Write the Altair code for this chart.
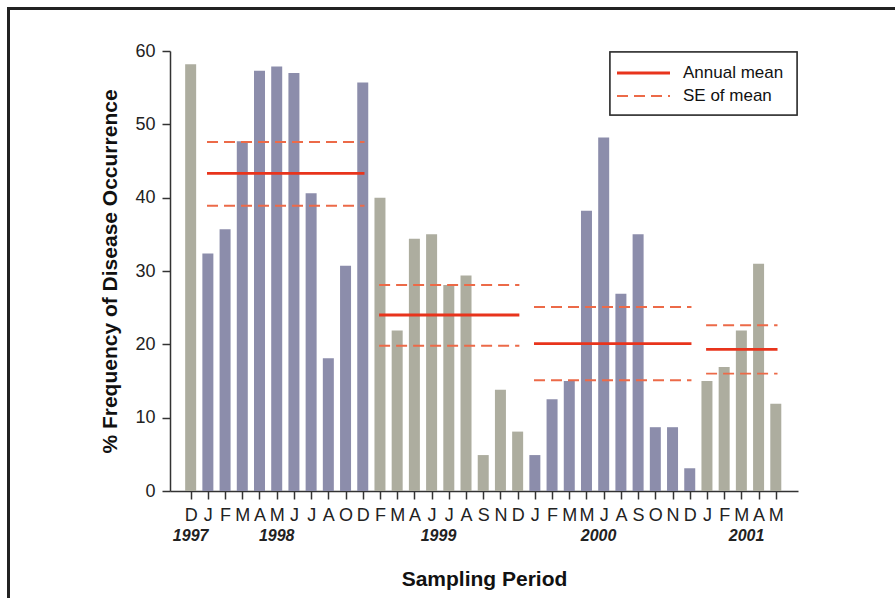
import altair as alt
import pandas as pd

months = ["D", "J", "F", "M", "A", "M", "J", "J", "A", "O", "D",
          "F", "M", "A", "J", "J", "A", "S", "N", "D",
          "J", "F", "M", "M", "J", "A", "S", "O", "N", "D",
          "J", "F", "M", "A", "M"]
years = ["1997"] + ["1998"] * 10 + ["1999"] * 9 + ["2000"] * 10 + ["2001"] * 5
values = [58.2, 32.4, 35.7, 47.7, 57.3, 57.9, 57.0, 40.6, 18.1, 30.7, 55.7,
          40.0, 21.9, 34.4, 35.0, 28.1, 29.4, 4.9, 13.8, 8.1,
          4.9, 12.5, 15.0, 38.2, 48.2, 26.9, 35.0, 8.7, 8.7, 3.1,
          15.0, 16.9, 21.9, 31.0, 11.9]

mean_years = ["1998", "1999", "2000", "2001"]
mean_vals = [43.3, 24.0, 20.1, 19.3]
se_upper = [47.6, 28.1, 25.1, 22.6]
se_lower = [38.9, 19.8, 15.1, 16.0]
span_start = [2, 12, 21, 31]
span_end = [11, 20, 30, 35]

year_labels = ["1997", "1998", "1999", "2000", "2001"]
year_label_pos = [1, 6, 15.4, 24.7, 33.3]

legend_labels = ["Annual mean", "SE of mean"]

idx = list(range(1, len(values) + 1))
bars = pd.DataFrame({"idx": idx, "month": months, "year": years, "value": values})
bars["group"] = ["B" if y in ("1998", "2000") else "A" for y in years]

mean_rows = []
se_rows = []
for y, m, u, l, s, e in zip(mean_years, mean_vals, se_upper, se_lower, span_start, span_end):
    mean_rows.append({"year": y, "v": m, "s": s - 0.05, "e": e + 0.1})
    se_rows.append({"year": y, "v": u, "s": s - 0.05, "e": e + 0.1})
    se_rows.append({"year": y, "v": l, "s": s - 0.05, "e": e + 0.1})
means = pd.DataFrame(mean_rows)
ses = pd.DataFrame(se_rows)

ylab = pd.DataFrame({"label": year_labels, "pos": year_label_pos})
leg = pd.DataFrame({"label": legend_labels})

month_str = "".join(months)
FONT = "Liberation Sans"
W, H = 628, 440
RED = "#e8341c"
RED2 = "#ec6a48"
DASH = [11, 6]

xscale = alt.Scale(domain=[0.09, 36.0], nice=False, zero=False)
yscale = alt.Scale(domain=[0, 60], nice=False)

xaxis = alt.Axis(values=idx, labelExpr=f"substring('{month_str}', datum.value-1, datum.value)",
                 title="Sampling Period", titleFontSize=21, titleFontWeight="bold",
                 titleFont=FONT, titleColor="#111", titlePadding=44, labelFontSize=18,
                 labelFont=FONT, labelColor="#222", labelPadding=7, tickSize=8,
                 tickColor="#333", domainColor="#333", domainWidth=1.5, tickWidth=1.5,
                 grid=False, labelFlush=False, labelOverlap=False, labelBound=False)
yaxis = alt.Axis(values=[0, 10, 20, 30, 40, 50, 60], title="% Frequency of Disease Occurrence",
                 titleFontSize=21, titleFontWeight="bold", titleFont=FONT, titleColor="#111",
                 titlePadding=14, labelFontSize=18, labelFont=FONT, labelColor="#222",
                 labelPadding=7, tickSize=8, tickColor="#333", domainColor="#333",
                 domainWidth=1.5, tickWidth=1.5, grid=False, labelOverlap=False)

bar_layer = alt.Chart(bars).mark_bar(size=11).encode(
    x=alt.X("idx:Q", scale=xscale, axis=xaxis, title="Sampling Period"),
    y=alt.Y("value:Q", scale=yscale, axis=yaxis, title="% Frequency of Disease Occurrence"),
    color=alt.Color("group:N", scale=alt.Scale(domain=["A", "B"], range=["#adad9f", "#8c8dab"]), legend=None),
)

mean_layer = alt.Chart(means).mark_rule(color=RED, strokeWidth=2.8).encode(
    x=alt.X("s:Q", scale=xscale, axis=xaxis, title="Sampling Period"), x2="e:Q",
    y=alt.Y("v:Q", scale=yscale, axis=yaxis, title="% Frequency of Disease Occurrence"))
se_layer = alt.Chart(ses).mark_rule(color=RED2, strokeWidth=1.9, strokeDash=DASH).encode(
    x=alt.X("s:Q", scale=xscale, axis=xaxis, title="Sampling Period"), x2="e:Q",
    y=alt.Y("v:Q", scale=yscale, axis=yaxis, title="% Frequency of Disease Occurrence"))

year_layer = alt.Chart(ylab).mark_text(font=FONT, fontSize=16, fontWeight="bold", fontStyle="italic",
                                       color="#222", baseline="middle").encode(
    x=alt.X("pos:Q", scale=xscale, axis=xaxis, title="Sampling Period"), y=alt.value(H + 45), text="label:N")

# legend box (drawn in pixel space of the plot area)
leg_box = alt.Chart(leg).mark_rect(fill="white", stroke="#333", strokeWidth=1.5).encode(
    x=alt.value(440), x2=alt.value(627), y=alt.value(1), y2=alt.value(64))
leg_solid = alt.Chart(leg).transform_filter(alt.datum.label == legend_labels[0]).mark_rule(
    color=RED, strokeWidth=2.8).encode(x=alt.value(447), x2=alt.value(500), y=alt.value(22))
leg_dash = alt.Chart(leg).transform_filter(alt.datum.label == legend_labels[1]).mark_rule(
    color=RED2, strokeWidth=1.9, strokeDash=DASH).encode(x=alt.value(447), x2=alt.value(500), y=alt.value(45))
leg_text1 = alt.Chart(leg).transform_filter(alt.datum.label == legend_labels[0]).mark_text(
    font=FONT, fontSize=17, color="#111", align="left", baseline="middle").encode(
    x=alt.value(513), y=alt.value(22), text="label:N")
leg_text2 = alt.Chart(leg).transform_filter(alt.datum.label == legend_labels[1]).mark_text(
    font=FONT, fontSize=17, color="#111", align="left", baseline="middle").encode(
    x=alt.value(513), y=alt.value(45), text="label:N")

frame_left = alt.Chart(leg).mark_rule(color="#222", strokeWidth=3).encode(
    x=alt.value(-161.5), y=alt.value(-43), y2=alt.value(560))
frame_top = alt.Chart(leg).mark_rule(color="#222", strokeWidth=3).encode(
    x=alt.value(-163), x2=alt.value(740), y=alt.value(-42.5))

chart = alt.layer(bar_layer, mean_layer, se_layer, year_layer, leg_box, leg_solid, leg_dash,
                  leg_text1, leg_text2, frame_left, frame_top).properties(
    width=W, height=H,
    autosize=alt.AutoSizeParams(type="none"),
    padding={"left": 170, "top": 51, "right": 97, "bottom": 107},
    background="white",
).configure_view(stroke=None).configure_axis(labelOverlap=False)

chart.save("out.html", embed_options={"renderer": "svg", "actions": False})
